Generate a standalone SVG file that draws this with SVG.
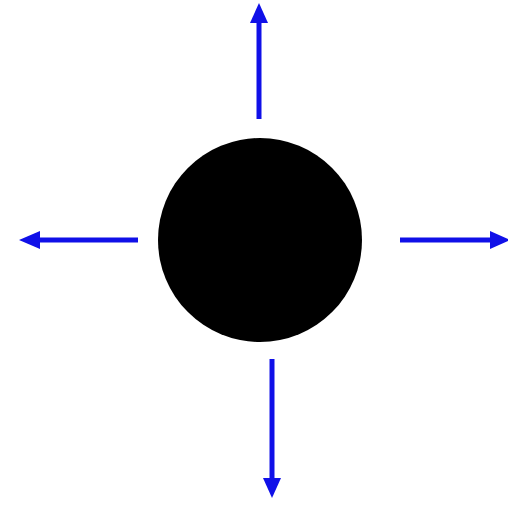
<svg xmlns="http://www.w3.org/2000/svg" width="508" height="515" viewBox="0 0 508 515">
<style>
.arrow{stroke:#1010e8;stroke-width:5;fill:none}
.head{fill:#1010e8}
</style>
<rect width="508" height="515" fill="#fff"/>
<g id="ball"><circle cx="260" cy="240" r="102" fill="#000"/></g>
<g id="connectors">
<line class="arrow" x1="259" y1="119" x2="259" y2="20"/>
<polygon class="head" points="259,3 250,23 268,23"/>
<line class="arrow" x1="138" y1="240" x2="36" y2="240"/>
<polygon class="head" points="19,240 40,231 40,249"/>
<line class="arrow" x1="400" y1="240" x2="492" y2="240"/>
<polygon class="head" points="510,240 490,231 490,249"/>
<line class="arrow" x1="272" y1="359" x2="272" y2="482"/>
<polygon class="head" points="272,498 263,478 281,478"/>
</g>
</svg>
